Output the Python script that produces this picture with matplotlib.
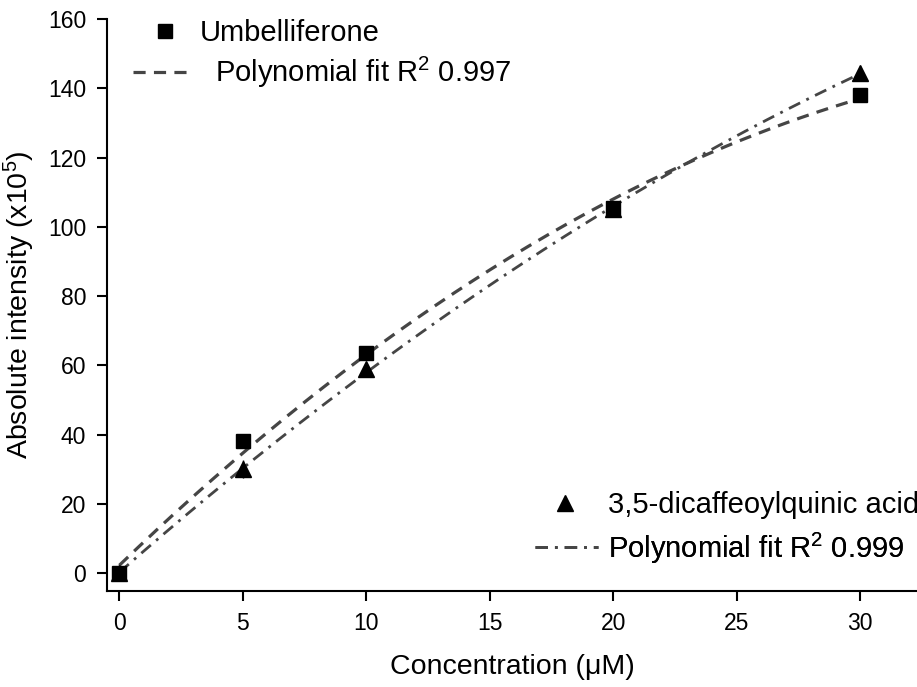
import numpy as np
import matplotlib
matplotlib.use("Agg")
import matplotlib.pyplot as plt
from matplotlib.lines import Line2D

plt.rcParams['font.family'] = ['Liberation Sans', 'DejaVu Sans']
plt.rcParams['mathtext.fontset'] = 'custom'
plt.rcParams['mathtext.rm'] = 'Liberation Sans'
plt.rcParams['mathtext.it'] = 'Liberation Sans:italic'
plt.rcParams['mathtext.default'] = 'regular'

conc = [0, 5, 10, 20, 30]
umbelliferone = [0, 38, 63.5, 105.5, 138]
dcqa = [0, 30, 59, 105, 144.5]
dcqa_err = [1.5, 2.5, 1.5, 1.5, 2.0]
x_ticks = [0, 5, 10, 15, 20, 25, 30]
y_ticks = [0, 20, 40, 60, 80, 100, 120, 140, 160]
lab_u = "Umbelliferone"
lab_fit_u = "Polynomial fit R$^2$ 0.997"
lab_d = "3,5-dicaffeoylquinic acid"
lab_fit_d = "Polynomial fit R$^2$ 0.999"

line_col = '#454545'
dash_u = (0, (3.8, 2.6))
dash_d = (0, (4.5, 2.5, 1, 2.5))

fig = plt.figure(figsize=(9.17, 6.87), dpi=100)
ax = fig.add_axes([0.1167, 0.1397, 0.8833, 0.8326])

xs = np.linspace(0, 30, 200)
cu = np.polyfit(conc, umbelliferone, 2)
cd = np.polyfit(conc, dcqa, 2)
ax.plot(xs, np.polyval(cu, xs), color=line_col, lw=2.3, ls=dash_u, zorder=3)
ax.plot(xs, np.polyval(cd, xs), color=line_col, lw=2.0, ls=dash_d, zorder=3)

ax.errorbar(conc, dcqa, yerr=dcqa_err, fmt='none', ecolor='black', elinewidth=1, zorder=2)
ax.plot(conc, umbelliferone, ls='none', marker='s', ms=10, color='black', zorder=4)
ax.plot(conc, dcqa, ls='none', marker='^', ms=12, color='black', zorder=4)

ax.set_xlim(-0.5, 32.3)
ax.set_ylim(-5.2, 160)
ax.set_xticks(x_ticks)
ax.set_yticks(y_ticks)
ax.tick_params(direction='out', length=7, width=1.5, labelsize=16.5, pad=8)
for s in ['top', 'right']:
    ax.spines[s].set_visible(False)
for s in ['left', 'bottom']:
    ax.spines[s].set_linewidth(1.5)

ax.set_xlabel("Concentration (μM)", fontsize=20.5, labelpad=14)
ax.set_ylabel("Absolute intensity (x10$^5$)", fontsize=20.5, labelpad=8)

FS = 21

def leg(handle, label, anchor, hl, tp):
    l = ax.legend([handle], [label], loc='center left', bbox_to_anchor=anchor,
                  bbox_transform=fig.transFigure, frameon=False, fontsize=FS,
                  handlelength=hl, handletextpad=tp, borderpad=0, borderaxespad=0)
    ax.add_artist(l)

h1 = Line2D([], [], ls='none', marker='s', ms=10, color='black')
h2 = Line2D([], [], color=line_col, lw=2.3, ls=dash_u)
h3 = Line2D([], [], ls='none', marker='^', ms=12, color='black')
h4 = Line2D([], [], color=line_col, lw=2.0, ls=dash_d)
leg(h1, lab_u, (0.1545, 0.952), 1.6, 0.4)
leg(h2, lab_fit_u, (0.145, 0.894), 2.02, 0.79)
leg(h3, lab_d, (0.582, 0.265), 2.14, 0.4)
leg(h4, lab_fit_d, (0.5834, 0.2023), 2.16, 0.34)

fig.savefig("out.png", dpi=100)
